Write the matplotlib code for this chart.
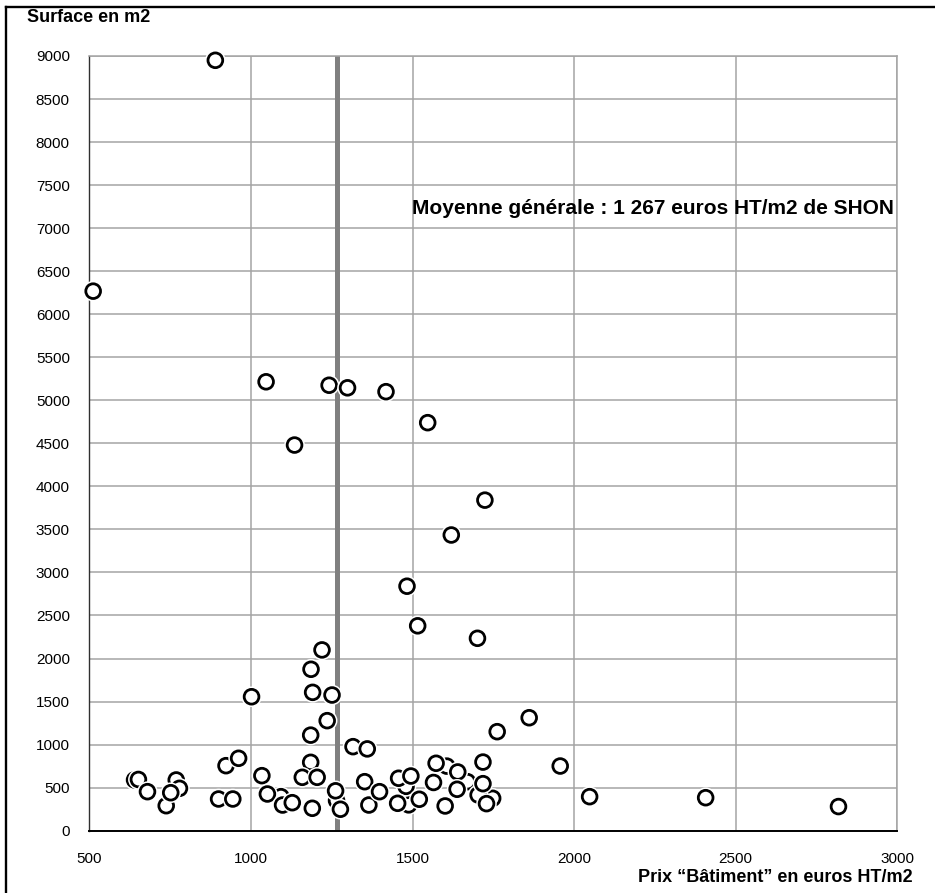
"""Nuage de points : surface vs prix bâtiment, avec la moyenne générale."""

import matplotlib
matplotlib.use("Agg")
import matplotlib.pyplot as plt
import matplotlib.patheffects as pe
from matplotlib.lines import Line2D

plt.rcParams["font.family"] = ["Liberation Sans", "DejaVu Sans"]

# points partiellement cachés (dessinés en premier)
prix_fond = [640, 1093, 1265, 1488, 1480, 1606, 1670, 1748, 1703]
surface_fond = [590, 395, 350, 300, 515, 750, 569, 376, 415]

prix = [890, 512, 1047, 1242, 1299, 1418, 1547, 1135, 1724, 1620,
        1483, 1516, 1701, 1220, 1186, 1002, 1191, 1251, 1236, 1185,
        1861, 1762, 1957, 2048, 2407, 2818,
        652, 680, 738, 769, 779, 752, 923, 962, 900, 944,
        1034, 1051, 1098, 1128, 1185, 1159, 1205, 1190, 1262, 1277,
        1316, 1360, 1352, 1365, 1398, 1454, 1457, 1495, 1521, 1565,
        1573, 1601, 1640, 1638, 1718, 1718, 1729]
surface = [8950, 6268, 5215, 5175, 5145, 5100, 4740, 4480, 3840, 3435,
           2840, 2380, 2235, 2100, 1875, 1556, 1607, 1576, 1278, 1110,
           1312, 1150, 751, 395, 383, 280,
           595, 453, 290, 589, 492, 441, 755, 841, 368, 368,
           639, 426, 298, 325, 794, 620, 620, 260, 463, 249,
           976, 950, 569, 298, 453, 318, 609, 635, 365, 560,
           783, 287, 682, 481, 797, 546, 314]

moyenne_prix = 1267
x_ticks = [500, 1000, 1500, 2000, 2500, 3000]
y_ticks = list(range(0, 9001, 500))

fig = plt.figure(figsize=(9.35, 8.93), dpi=100)
ax = fig.add_axes([0.0955, 0.0698, 0.8642, 0.8675])

ax.set_xlim(500, 3000)
ax.set_ylim(0, 9000)
ax.set_xticks(x_ticks)
ax.set_yticks(y_ticks)
ax.tick_params(length=0, labelsize=11)
ax.tick_params(axis="y", pad=14)
ax.tick_params(axis="x", pad=15)
ax.grid(True, color="#a4a4a4", linewidth=1.1)
ax.set_axisbelow(True)

for side in ("top", "right"):
    ax.spines[side].set_color("#a4a4a4")
    ax.spines[side].set_linewidth(1.1)
ax.spines["left"].set_color("#303030")
ax.spines["left"].set_linewidth(1.0)
ax.spines["bottom"].set_color("black")
ax.spines["bottom"].set_linewidth(1.4)

ax.axvline(moyenne_prix, color="#808080", linewidth=3.6, zorder=2)

halo = [pe.Stroke(linewidth=4.2, foreground="white"), pe.Normal()]
for x, y in zip(prix_fond + prix, surface_fond + surface):
    ax.plot([x], [y], "o", ms=10.6, mfc="white", mec="black", mew=2.0,
            path_effects=halo, zorder=3, clip_on=False)

ax.text(2990, 7230, "Moyenne générale : 1 267 euros HT/m2 de SHON",
        ha="right", va="center", fontsize=15, fontweight="bold", zorder=4)

fig.text(27 / 935, 1 - 17 / 893, "Surface en m2", ha="left", va="center",
         fontsize=13, fontweight="bold")
fig.text(913 / 935, 1 - 877 / 893, "Prix \u201cBâtiment\u201d en euros HT/m2",
         ha="right", va="center", fontsize=13, fontweight="bold")

# cadre extérieur (haut et gauche)
fig.add_artist(Line2D([6 / 935, 6 / 935], [0, 1 - 6.5 / 893],
                      transform=fig.transFigure, color="black", linewidth=1.7))
fig.add_artist(Line2D([6 / 935, 1], [1 - 6.5 / 893, 1 - 6.5 / 893],
                      transform=fig.transFigure, color="black", linewidth=1.7))

fig.savefig("out.png", dpi=100)
